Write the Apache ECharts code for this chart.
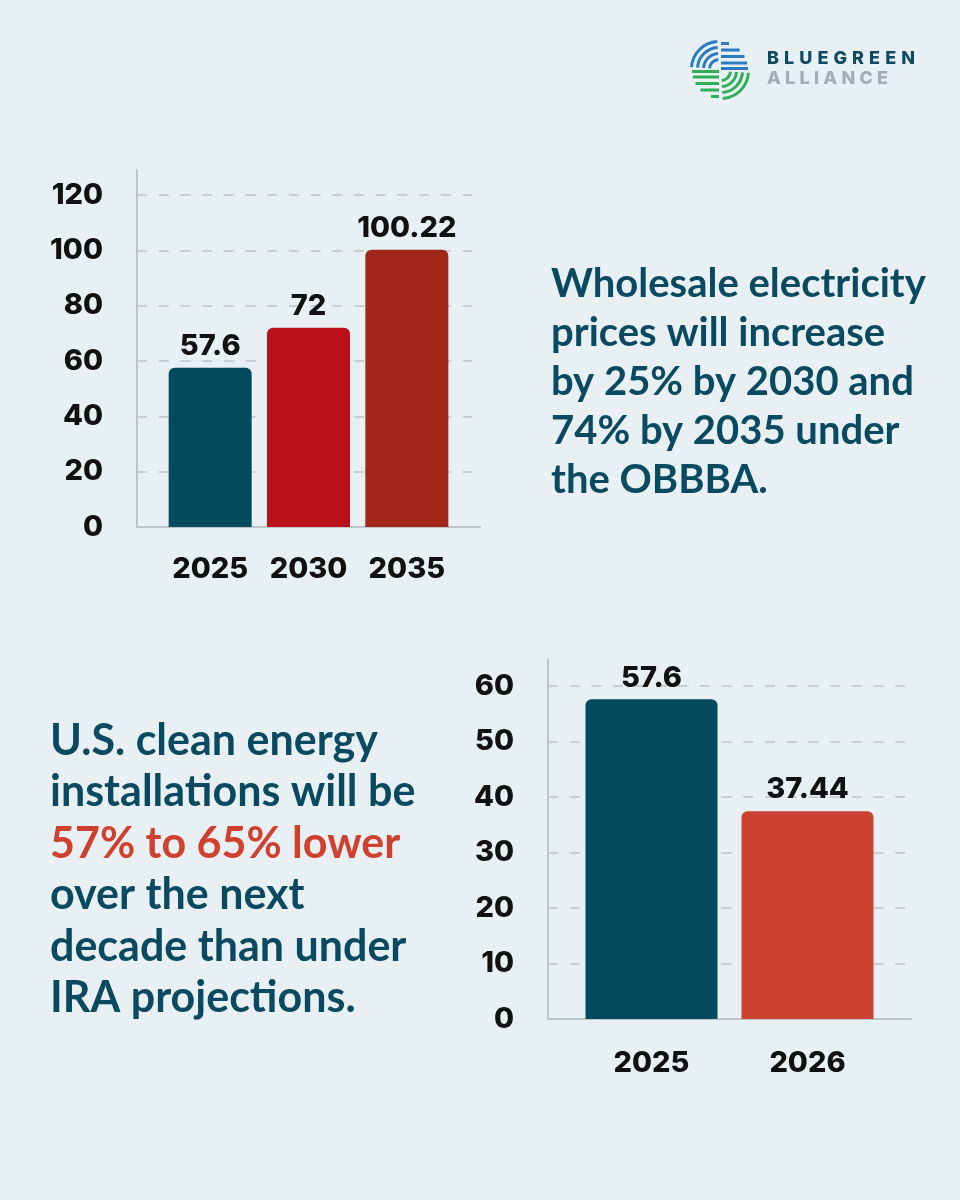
<!DOCTYPE html>
<html><head><meta charset="utf-8">
<script src="https://cdn.jsdelivr.net/npm/echarts@6/dist/echarts.min.js"></script>
<style>html,body{margin:0;padding:0;background:#e8f0f4}#c{width:960px;height:1200px}</style>
</head><body><div id="c"></div>
<script>
// ---- data ----
const priceYears = ['2025', '2030', '2035'];
const priceValues = [57.6, 72, 100.22];
const priceTicks = [0, 20, 40, 60, 80, 100, 120];
const installYears = ['2025', '2026'];
const installValues = [57.6, 37.44];
const installTicks = [0, 10, 20, 30, 40, 50, 60];
const priceHeadline = ['Wholesale electricity', 'prices will increase', 'by 25% by 2030 and', '74% by 2035 under', 'the OBBBA.'];
const installHeadline = ['U.S. clean energy', 'installations will be', '57% to 65% lower', 'over the next', 'decade than under', 'IRA projections.'];
const highlightLine = 2;
const logoTop = 'BLUEGREEN';
const logoBottom = 'ALLIANCE';

// ---- styles ----
const priceColors = ['#034a5f', '#b9101a', '#a2261a'];
const installColors = ['#034a5f', '#cc4231'];
const navy = '#0a4a60';
const red = '#d0402f';
const numFont = 'Inter';
const numWeight = 800;
const numSize = 29;
const axisGray = '#bec5c9';
const gridGray = '#c8ced2';

const chart = echarts.init(document.getElementById('c'), null, {renderer: 'canvas'});

function frameAxes(gi) {
  return {
    x: {gridIndex: gi, type: 'value', min: 0, max: 1, axisLine: {show: true, onZero: false, lineStyle: {color: axisGray, width: 2}}, axisTick: {show: false}, axisLabel: {show: false}, splitLine: {show: false}},
    y: {gridIndex: gi, type: 'value', min: 0, max: 1, axisLine: {show: true, onZero: false, lineStyle: {color: axisGray, width: 2}}, axisTick: {show: false}, axisLabel: {show: false}, splitLine: {show: false}}
  };
}
function splitAxes(gi, ticks) {
  return {
    x: {gridIndex: gi, type: 'value', show: false},
    y: {gridIndex: gi, type: 'value', min: ticks[0], max: ticks[ticks.length - 1], interval: ticks[1] - ticks[0],
      axisLine: {show: false}, axisTick: {show: false},
      axisLabel: {margin: 34, fontFamily: numFont, fontWeight: numWeight, fontSize: numSize, color: '#111'},
      splitLine: {show: true, lineStyle: {type: [10, 11.7], color: gridGray, width: 2}}}
  };
}
function barAxes(gi, cats, ticks, margin) {
  return {
    x: {gridIndex: gi, type: 'category', data: cats, axisLine: {show: false}, axisTick: {show: false},
      axisLabel: {interval: 0, hideOverlap: false, margin: margin, fontFamily: numFont, fontWeight: numWeight, fontSize: numSize, color: '#111'}},
    y: {gridIndex: gi, type: 'value', min: ticks[0], max: ticks[ticks.length - 1], show: false}
  };
}
function barSeries(gi, values, colors, width) {
  return {
    type: 'bar', xAxisIndex: gi, yAxisIndex: gi, barWidth: width,
    data: values.map((v, i) => ({value: v, itemStyle: {color: colors[i], borderRadius: [6, 6, 0, 0]}})),
    label: {show: true, position: 'top', distance: 7, fontFamily: numFont, fontWeight: numWeight, fontSize: numSize, color: '#111'}
  };
}

const axesList = [
  frameAxes(0), splitAxes(1, priceTicks), barAxes(2, priceYears, priceTicks, 28),
  frameAxes(3), splitAxes(4, installTicks), barAxes(5, installYears, installTicks, 30)
];

// ---- logo ----
const mctx = document.createElement('canvas').getContext('2d');
function spacedLetters(str, x0, width, y, font, color) {
  mctx.font = font;
  const chars = Array.from(str);
  const ws = chars.map(c => mctx.measureText(c).width);
  const total = ws.reduce((a, b) => a + b, 0);
  const gap = (width - total) / (chars.length - 1);
  let x = x0;
  return chars.map((c, i) => {
    const el = {type: 'text', x: x, y: y, style: {text: c, font: font, fill: color, align: 'left', verticalAlign: 'middle', textVerticalAlign: 'middle'}};
    x += ws[i] + gap;
    return el;
  });
}
const lcx = 720, lcy = 70, LR = 28;
const blue = '#2a7cc2', green = '#2eae57';
const logoEls = [];
[9.5, 15.5, 21.5, 27.5].forEach(r => {
  logoEls.push({type: 'arc', shape: {cx: lcx - 1, cy: lcy - 1, r: r, startAngle: Math.PI * 1.02, endAngle: Math.PI * 1.48, clockwise: true}, style: {stroke: blue, lineWidth: 3, fill: null}});
  logoEls.push({type: 'arc', shape: {cx: lcx + 1, cy: lcy + 1, r: r, startAngle: Math.PI * 0.02, endAngle: Math.PI * 0.48, clockwise: true}, style: {stroke: green, lineWidth: 3, fill: null}});
});
[-26.5, -20, -13.5, -7, -1.5].forEach(dy => {
  const half = Math.sqrt(Math.max(LR * LR - dy * dy, 49));
  logoEls.push({type: 'line', shape: {x1: lcx + 1, y1: lcy + dy, x2: lcx + half, y2: lcy + dy}, style: {stroke: blue, lineWidth: 3}});
  logoEls.push({type: 'line', shape: {x1: lcx - half, y1: lcy - dy, x2: lcx - 1, y2: lcy - dy}, style: {stroke: green, lineWidth: 3}});
});
spacedLetters(logoTop, 767, 148, 58.5, '800 18px Inter', '#0f4a62').forEach(e => logoEls.push(e));
spacedLetters(logoBottom, 767, 121, 78.5, '800 18px Inter', '#a3aeb2').forEach(e => logoEls.push(e));

const option = {
  backgroundColor: '#e8f0f4',
  animation: false,
  title: [
    {left: 551, top: 260, padding: 0, text: priceHeadline.join('\n'),
      textStyle: {fontFamily: 'Lato', fontWeight: 'bold', fontSize: 40, lineHeight: 49, color: navy}},
    {left: 50, top: 715, padding: 0,
      text: installHeadline.map((l, i) => '{' + (i === highlightLine ? 'r' : 'n') + '|' + l + '}').join('\n'),
      textStyle: {rich: {
        n: {fontFamily: 'Lato', fontWeight: 'bold', fontSize: 43, lineHeight: 51.5, color: navy},
        r: {fontFamily: 'Lato', fontWeight: 'bold', fontSize: 43, lineHeight: 51.5, color: red}}}}
  ],
  grid: [
    {left: 137, top: 170, width: 343, height: 357},
    {left: 137, top: 195, width: 335, height: 332},
    {left: 161, top: 195, width: 295, height: 332},
    {left: 548, top: 660, width: 363, height: 359},
    {left: 548, top: 686, width: 357, height: 333},
    {left: 573.5, top: 686, width: 312, height: 333}
  ],
  xAxis: axesList.map(a => a.x),
  yAxis: axesList.map(a => a.y),
  series: [
    barSeries(2, priceValues, priceColors, 83),
    barSeries(5, installValues, installColors, 132)
  ],
  graphic: logoEls
};
chart.setOption(option);
</script>
</body></html>
